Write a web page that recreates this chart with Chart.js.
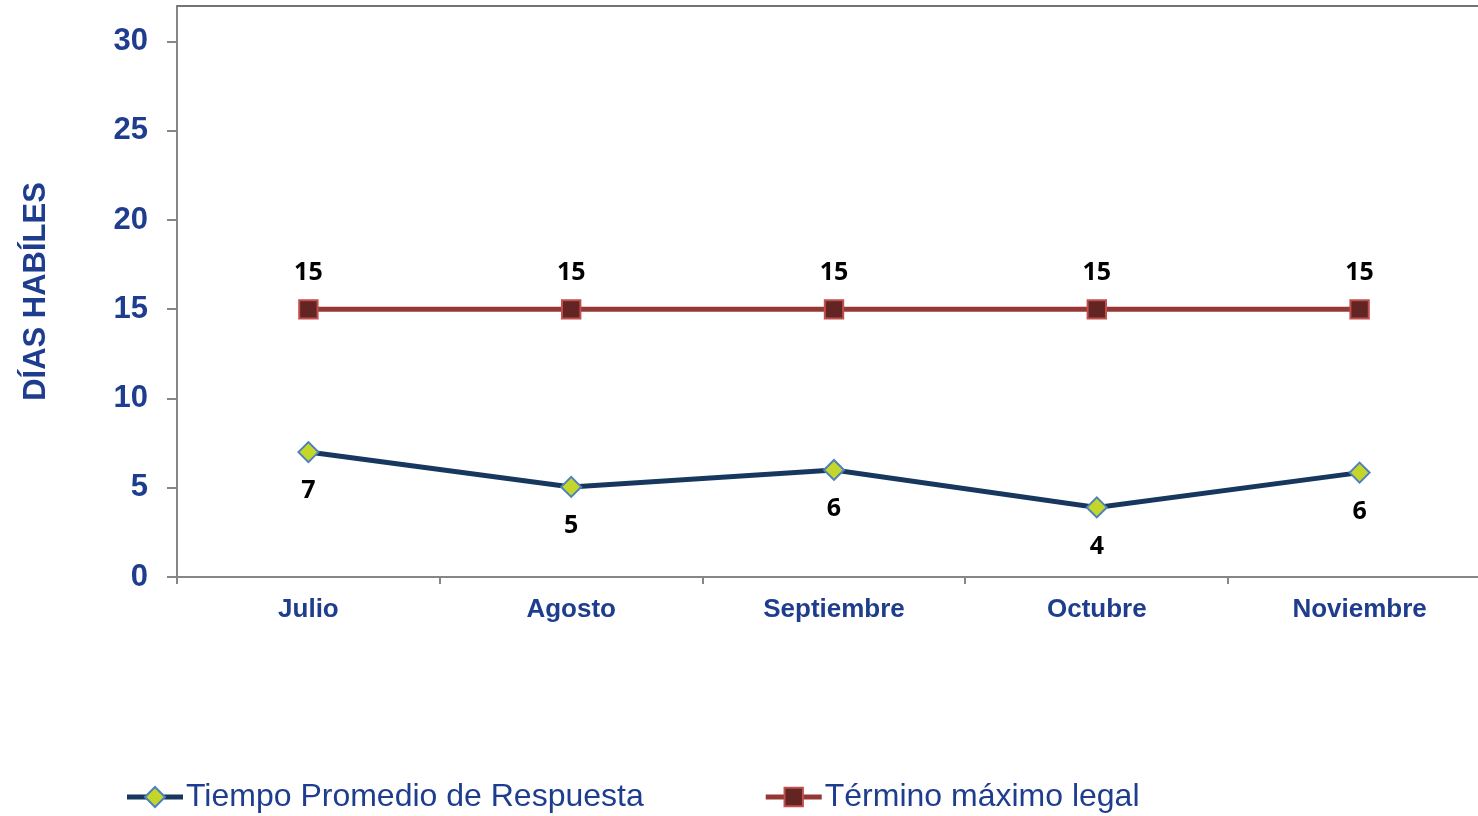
<!DOCTYPE html>
<html>
<head>
<meta charset="utf-8">
<script src="https://cdn.jsdelivr.net/npm/chart.js@4"></script>
<style>
  html, body { margin: 0; padding: 0; background: #fff; overflow: hidden; }
  #wrap { width: 1495px; height: 816px; }
</style>
</head>
<body>
<div id="wrap"><canvas id="chart-dias" width="1495" height="816"></canvas></div>
<script>
const meses = ["Julio", "Agosto", "Septiembre", "Octubre", "Noviembre"];
const tiempoPromedio = [7.0, 5.05, 6.0, 3.9, 5.85];
const terminoLegal = [15, 15, 15, 15, 15];
const ticksY = [0, 5, 10, 15, 20, 25, 30];

const azulTexto = "#1f3d8e";
const grisEje = "#868686";

// etiquetas de valor sobre / bajo cada punto
const etiquetasValor = {
    id: "etiquetasValor",
    afterDatasetsDraw(chart) {
        const ctx = chart.ctx;
        ctx.save();
        ctx.font = "bold 25px 'Open Sans'";
        ctx.fillStyle = "#000";
        ctx.textAlign = "center";
        ctx.textBaseline = "middle";
        chart.data.datasets.forEach((ds, i) => {
            const meta = chart.getDatasetMeta(i);
            meta.data.forEach((pt, j) => {
                ctx.fillText(Math.round(ds.data[j]), pt.x, pt.y + ds.offsetEtiqueta);
            });
        });
        ctx.restore();
    },
};

// borde superior del area y leyenda inferior
const marcoYLeyenda = {
    id: "marcoYLeyenda",
    afterDraw(chart) {
        const ctx = chart.ctx;
        const area = chart.chartArea;
        ctx.save();
        ctx.strokeStyle = "#747474";
        ctx.lineWidth = 2;
        ctx.beginPath();
        ctx.moveTo(area.left, area.top);
        ctx.lineTo(area.right, area.top);
        ctx.stroke();

        ctx.font = "32px 'Liberation Sans', Arial";
        ctx.textBaseline = "middle";
        ctx.textAlign = "left";
        let x = 127;
        const y = 797;
        chart.data.datasets.forEach((ds) => {
            ctx.strokeStyle = ds.borderColor;
            ctx.lineWidth = 5;
            ctx.beginPath();
            ctx.moveTo(x, y);
            ctx.lineTo(x + 56, y);
            ctx.stroke();
            ctx.fillStyle = ds.pointBackgroundColor;
            ctx.strokeStyle = ds.pointBorderColor;
            ctx.lineWidth = ds.pointBorderWidth;
            ctx.beginPath();
            if (ds.pointStyle === "rect") {
                const s = Math.SQRT1_2 * ds.pointRadius;
                ctx.rect(x + 28 - s, y - s, 2 * s, 2 * s);
            } else {
                const r = ds.pointRadius;
                ctx.moveTo(x + 28 - r, y);
                ctx.lineTo(x + 28, y - r);
                ctx.lineTo(x + 28 + r, y);
                ctx.lineTo(x + 28, y + r);
                ctx.closePath();
            }
            ctx.fill();
            ctx.stroke();
            ctx.fillStyle = azulTexto;
            ctx.fillText(ds.label, x + 59, y);
            x += 59 + ctx.measureText(ds.label).width + 122;
        });
        ctx.restore();
    },
};

const dataDias = {
    labels: meses,
    datasets: [
        {
            label: "Tiempo Promedio de Respuesta",
            data: tiempoPromedio,
            borderColor: "#17375e",
            borderWidth: 5,
            pointStyle: "rectRot",
            pointRadius: 10,
            pointBackgroundColor: "#c5d62b",
            pointBorderColor: "#4f81bd",
            pointBorderWidth: 2,
            offsetEtiqueta: 39,
            tension: 0,
        },
        {
            label: "Término máximo legal",
            data: terminoLegal,
            borderColor: "#953735",
            borderWidth: 5,
            pointStyle: "rect",
            pointRadius: 13,
            pointBackgroundColor: "#632523",
            pointBorderColor: "#c0504d",
            pointBorderWidth: 2,
            offsetEtiqueta: -36,
            tension: 0,
        },
    ],
};

const configDias = {
    type: "line",
    data: dataDias,
    options: {
        responsive: false,
        animation: false,
        layout: {
            autoPadding: false,
            padding: { left: 0, top: 6, right: 4, bottom: 189 },
        },
        plugins: {
            legend: { display: false },
            tooltip: { enabled: false },
        },
        scales: {
            x: {
                offset: true,
                grid: {
                    offset: true,
                    drawOnChartArea: false,
                    drawTicks: true,
                    tickLength: 7,
                    color: grisEje,
                    lineWidth: 2,
                },
                border: { display: true, color: grisEje, width: 2 },
                ticks: {
                    color: azulTexto,
                    padding: 10,
                    font: { family: "'Liberation Sans', Arial", size: 26, weight: "bold" },
                },
                afterFit(scale) {
                    scale.height = 50;
                    scale.paddingLeft = 0;
                    scale.paddingRight = 0;
                },
            },
            y: {
                min: 0,
                max: 32,
                grid: {
                    drawOnChartArea: false,
                    drawTicks: true,
                    tickLength: 10,
                    color: grisEje,
                    lineWidth: 2,
                },
                border: { display: true, color: grisEje, width: 2 },
                afterBuildTicks(scale) {
                    scale.ticks = ticksY.map((v) => ({ value: v }));
                },
                ticks: {
                    color: azulTexto,
                    padding: 19,
                    font: { family: "'Liberation Sans', Arial", size: 31, weight: "bold" },
                },
                title: {
                    display: true,
                    text: "DÍAS HABÍLES",
                    color: azulTexto,
                    padding: { top: 18, bottom: 0 },
                    font: { family: "'Liberation Sans', Arial", size: 31, weight: "bold" },
                },
                afterFit(scale) {
                    scale.width = 177;
                    scale.paddingTop = 0;
                    scale.paddingBottom = 0;
                },
            },
        },
    },
    plugins: [etiquetasValor, marcoYLeyenda],
};

new Chart(document.getElementById("chart-dias"), configDias);
</script>
</body>
</html>
